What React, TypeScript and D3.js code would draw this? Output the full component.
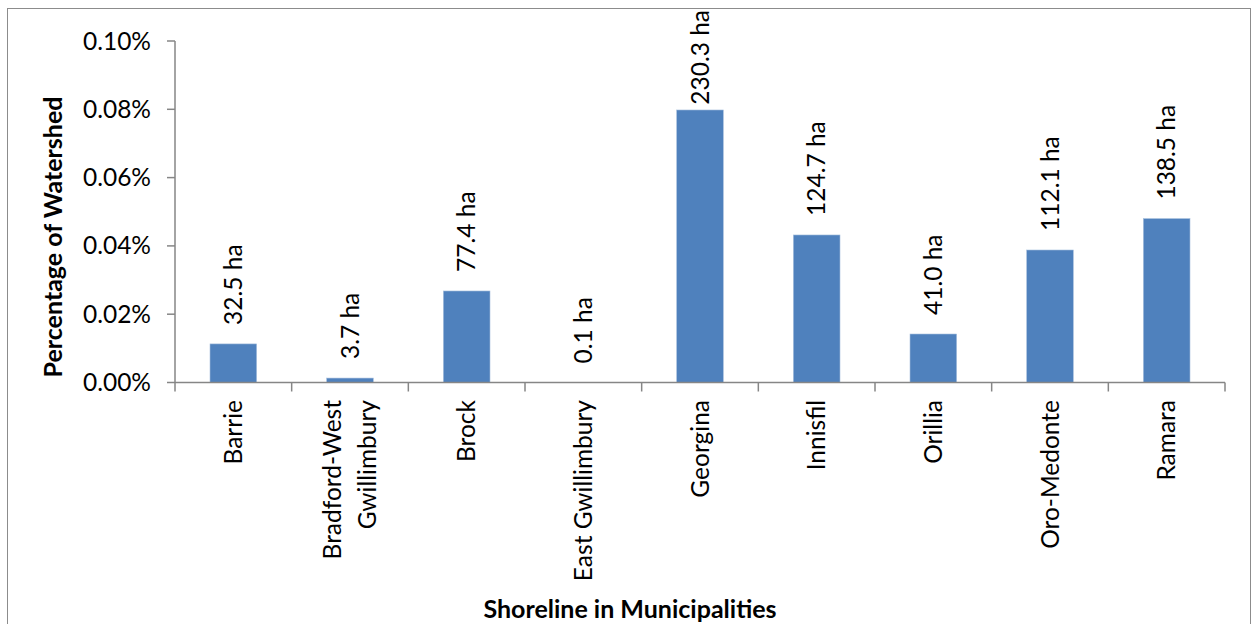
import React from "react";
import * as d3 from "d3";

// Shoreline in each municipality, as percentage of the watershed and as area
const municipalities = [
  "Barrie",
  "Bradford-West Gwillimbury",
  "Brock",
  "East Gwillimbury",
  "Georgina",
  "Innisfil",
  "Orillia",
  "Oro-Medonte",
  "Ramara",
];
const categoryLines = [
  ["Barrie"],
  ["Bradford-West", "Gwillimbury"],
  ["Brock"],
  ["East Gwillimbury"],
  ["Georgina"],
  ["Innisfil"],
  ["Orillia"],
  ["Oro-Medonte"],
  ["Ramara"],
];
const percentOfWatershed = [0.0113, 0.0013, 0.0268, 0.00003, 0.0798, 0.0432, 0.0142, 0.0388, 0.048];
const areaLabels = ["32.5 ha", "3.7 ha", "77.4 ha", "0.1 ha", "230.3 ha", "124.7 ha", "41.0 ha", "112.1 ha", "138.5 ha"];
const yTicks = [0, 0.02, 0.04, 0.06, 0.08, 0.1];

const W = 1252;
const H = 624;
const plot = { left: 175, right: 1225, top: 41, bottom: 382.5 };
const FONT = "Lato, 'Open Sans', sans-serif";
const FS = 24.5;
const AXIS = "#868686";
const BAR = "#4F81BD";
const LABEL_GAP = 19;
const LABEL_CEIL = 10;

// Width of a label in the chart font, used to keep value labels inside the chart
let measureCtx: CanvasRenderingContext2D | null = null;
function textWidth(s: string, size: number) {
  if (!measureCtx) measureCtx = document.createElement("canvas").getContext("2d");
  if (!measureCtx) return s.length * size * 0.5;
  measureCtx.font = `${size}px Lato`;
  return measureCtx.measureText(s).width;
}

export default function App() {
  const x = d3
    .scaleBand<string>()
    .domain(municipalities)
    .range([plot.left, plot.right])
    .paddingInner(0.6)
    .paddingOuter(0.3);
  const band = d3.scaleBand<string>().domain(municipalities).range([plot.left, plot.right]);
  const y = d3.scaleLinear().domain([0, 0.1]).range([plot.bottom, plot.top]);

  return (
    <svg
      width={W}
      height={H}
      style={{ position: "absolute", left: 0, top: 0, background: "#fff" }}
      fontFamily={FONT}
    >
      <rect x={7.5} y={8.5} width={1243} height={700} fill="#fff" stroke="#8c8c8c" strokeWidth={1} />

      {/* y axis */}
      <line x1={plot.left} x2={plot.left} y1={plot.top} y2={plot.bottom} stroke={AXIS} strokeWidth={1.5} />
      {yTicks.map((t) => (
        <g key={t}>
          <line x1={plot.left - 8} x2={plot.left} y1={y(t)} y2={y(t)} stroke={AXIS} strokeWidth={1.5} />
          <text x={151} y={y(t)} dy="0.35em" textAnchor="end" fontSize={FS} fill="#000">
            {d3.format(".2%")(t / 100)}
          </text>
        </g>
      ))}

      {/* bars and value labels */}
      {municipalities.map((m, i) => {
        const v = percentOfWatershed[i];
        const bx = x(m)!;
        const cx = bx + x.bandwidth() / 2;
        const top = y(v);
        const len = textWidth(areaLabels[i], FS);
        let start = top - LABEL_GAP;
        if (start - len < LABEL_CEIL) start = LABEL_CEIL + len;
        return (
          <g key={m}>
            <rect x={bx} y={top} width={x.bandwidth()} height={plot.bottom - top} fill={BAR} stroke="#a8c0de" strokeWidth={0.6} />
            <text
              transform={`translate(${cx + 8.5},${start}) rotate(-90)`}
              fontSize={FS}
              fill="#000"
              textAnchor="start"
            >
              {areaLabels[i]}
            </text>
          </g>
        );
      })}

      {/* x axis */}
      <line x1={plot.left} x2={plot.right} y1={plot.bottom} y2={plot.bottom} stroke={AXIS} strokeWidth={1.5} />
      {d3.range(municipalities.length + 1).map((k) => {
        const tx = plot.left + k * band.bandwidth();
        return <line key={k} x1={tx} x2={tx} y1={plot.bottom} y2={plot.bottom + 9} stroke={AXIS} strokeWidth={1.5} />;
      })}
      {municipalities.map((m, i) => {
        const cx = band(m)! + band.bandwidth() / 2;
        const lines = categoryLines[i];
        const lh = 35;
        return (
          <g key={m}>
            {lines.map((ln, j) => {
              const lx = cx + (j - (lines.length - 1) / 2) * lh + 8.5;
              return (
                <text
                  key={j}
                  transform={`translate(${lx},400) rotate(-90)`}
                  textAnchor="end"
                  fontSize={FS}
                  fill="#000"
                >
                  {ln}
                </text>
              );
            })}
          </g>
        );
      })}

      {/* axis titles */}
      <text
        transform="translate(62,237) rotate(-90)"
        textAnchor="middle"
        fontSize={25}
        fontWeight="bold"
        fill="#000"
      >
        Percentage of Watershed
      </text>
      <text x={630} y={618} textAnchor="middle" fontSize={25} fontWeight="bold" fill="#000">
        Shoreline in Municipalities
      </text>
    </svg>
  );
}
